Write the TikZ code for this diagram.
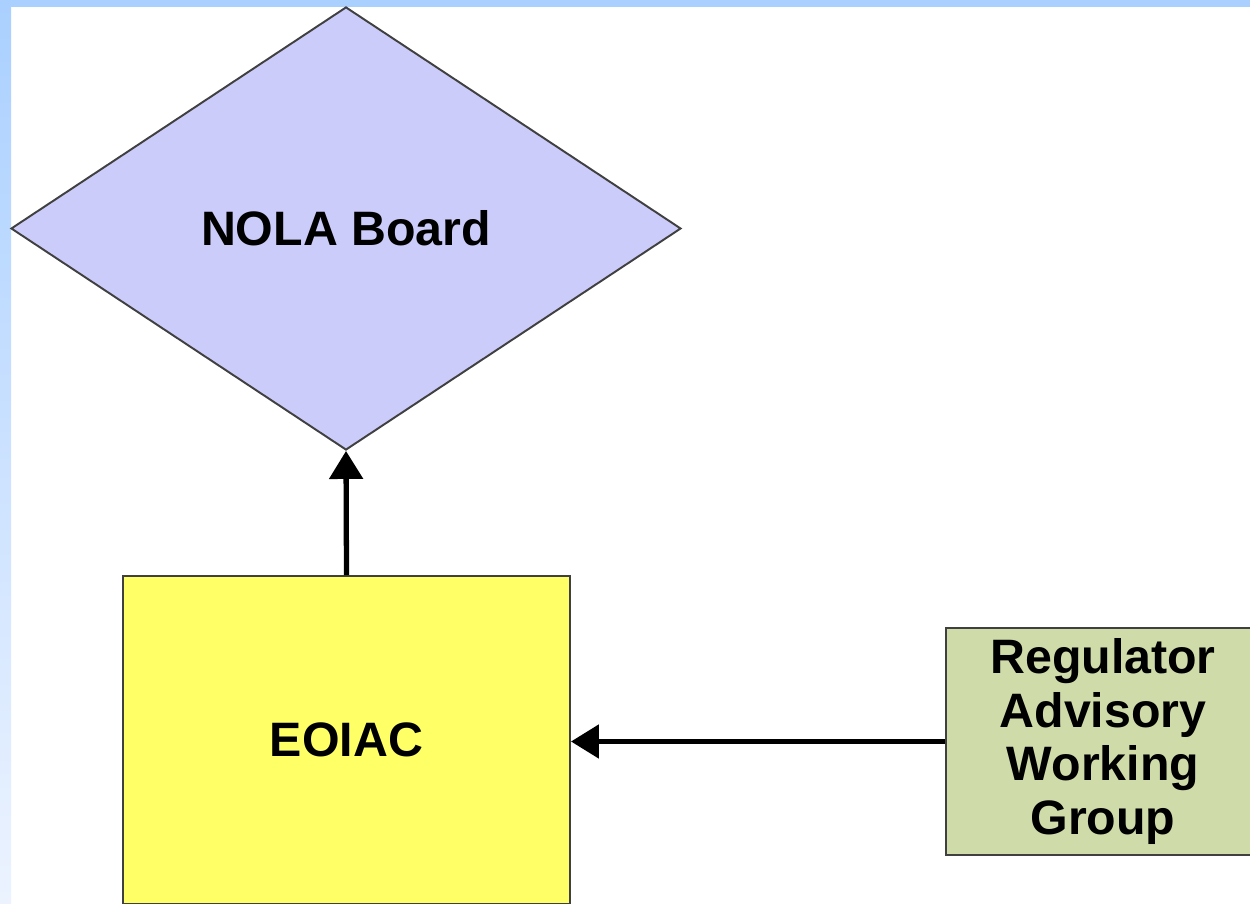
\documentclass[tikz,border=0pt]{standalone}
\usepackage{fontspec}
\setmainfont{Liberation Sans}
\usetikzlibrary{shapes.geometric, arrows.meta}

\definecolor{boardfill}{RGB}{204,204,250}
\definecolor{eoiacfill}{RGB}{255,255,102}
\definecolor{groupfill}{RGB}{207,220,170}
\definecolor{edgegray}{RGB}{64,64,64}
\definecolor{bandblue}{RGB}{170,208,255}
\definecolor{bandpale}{RGB}{236,243,255}

\begin{document}
\begin{tikzpicture}[
    every node/.style={font=\fontsize{27.5}{30.5}\selectfont\bfseries, align=center},
    box/.style={rectangle, draw=edgegray, line width=1.1pt, inner sep=0pt},
    board/.style={diamond, draw=edgegray, line width=1.1pt, fill=boardfill, inner sep=0pt},
    link/.style={draw, line width=3pt, -{Triangle[length=0.56cm, width=0.66cm]}}
]

% Frame of the slide
\useasboundingbox (0,0) rectangle (25,-18.08);
\clip (0,0) rectangle (25,-18.08);
\fill[white] (0,0) rectangle (25,-18.08);
\fill[bandblue] (0,0) rectangle (25,-0.14);
\shade[top color=bandblue, bottom color=bandpale] (0,0) rectangle (0.22,-18.08);

% Nodes
\node[board, minimum width=13.4cm, minimum height=8.86cm] (nola) at (6.92,-4.57) {NOLA Board};
\node[box, fill=eoiacfill, minimum width=8.94cm, minimum height=6.56cm] (eoiac) at (6.93,-14.8) {EOIAC};
\node[box, fill=groupfill, minimum width=6.28cm, minimum height=4.54cm] (ravwg) at (22.06,-14.83) {Regulator\\Advisory\\Working\\Group};

% Connectors
\draw[link] (eoiac.north) -- (nola.south);
\draw[link] (ravwg.west) -- (ravwg.west -| eoiac.east);

\end{tikzpicture}
\end{document}
